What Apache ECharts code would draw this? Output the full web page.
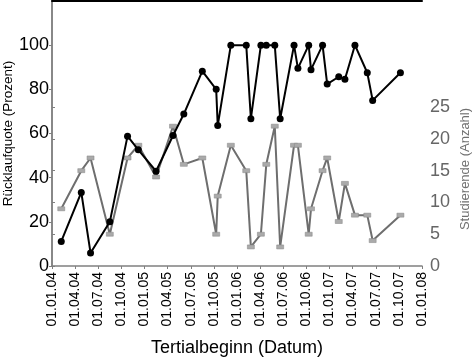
<!DOCTYPE html>
<html><head><meta charset="utf-8">
<script src="https://cdn.jsdelivr.net/npm/echarts@6/dist/echarts.min.js"></script>
<style>html,body{margin:0;padding:0;background:#fff}#c{width:472px;height:359px}</style>
</head><body><div id="c"></div>
<script>
// Month offsets since 01.01.2004 (term start dates)
const termMonths = [1.2, 3.8, 5.0, 7.5, 9.8, 11.2, 13.5, 15.7, 17.1, 19.5, 21.3, 21.5, 23.2, 25.2, 25.8, 27.1, 27.8, 28.9, 29.6, 31.4, 31.9, 33.3, 33.6, 35.1, 35.7, 37.2, 38.0, 39.3, 40.9, 41.6, 45.2];
// Rücklaufquote (Prozent)
const responseRate = [11.1, 33.3, 5.9, 20, 58.8, 52.6, 42.9, 59.1, 68.8, 88.2, 80, 63.6, 100, 100, 66.7, 100, 100, 100, 66.7, 100, 89.5, 100, 88.9, 100, 82.4, 85.7, 84.6, 100, 87.5, 75, 87.5];
// Studierende (Anzahl)
const students = [9, 15, 17, 5, 17, 19, 14, 22, 16, 17, 5, 11, 19, 15, 3, 5, 16, 22, 3, 19, 19, 5, 9, 15, 17, 7, 13, 8, 8, 4, 8];
// x tick labels, every 3 months from 01.01.04
const xTickLabels = ['01.01.04','01.04.04','01.07.04','01.10.04','01.01.05','01.04.05','01.07.05','01.10.05','01.01.06','01.04.06','01.07.06','01.10.06','01.01.07','01.04.07','01.07.07','01.10.07','01.01.08'];
const leftTicks = [0, 20, 40, 60, 80, 100];
const rightTicks = [0, 5, 10, 15, 20, 25];

const font = 'Liberation Sans, Arial, sans-serif';
const chart = echarts.init(document.getElementById('c'), null, {renderer: 'canvas'});
chart.setOption({
  animation: false,
  grid: {left: 52, right: 50, top: 1, bottom: 93, containLabel: false, outerBoundsMode: 'none'},
  xAxis: [{
    type: 'value', min: 0, max: 48, interval: 3,
    name: 'Tertialbeginn (Datum)', nameLocation: 'middle', nameGap: 73, nameMoveOverlap: false,
    nameTextStyle: {fontFamily: font, fontSize: 18, color: '#000'},
    axisLine: {show: true, lineStyle: {color: '#808080', width: 1.5}},
    axisTick: {show: true, length: 3, lineStyle: {color: '#808080'}},
    axisLabel: {rotate: 90, margin: 6, fontFamily: font, fontSize: 14, color: '#000',
      formatter: v => xTickLabels[Math.round(v / 3)] || ''},
    splitLine: {show: false}
  }, {
    type: 'value', position: 'top', min: 0, max: 48,
    axisLine: {show: true, onZero: false, lineStyle: {color: '#000', width: 2}},
    axisTick: {show: false}, axisLabel: {show: false}, splitLine: {show: false}
  }],
  yAxis: [{
    type: 'value', min: 0, max: 120, interval: 20,
    name: 'Rücklaufquote (Prozent)', nameLocation: 'middle', nameGap: 37, nameMoveOverlap: false,
    nameTextStyle: {fontFamily: font, fontSize: 13.5, color: '#000'},
    axisLine: {show: true, lineStyle: {color: '#808080', width: 1.5}},
    axisTick: {show: true, length: 3, customValues: leftTicks, lineStyle: {color: '#808080'}},
    axisLabel: {margin: 3, fontFamily: font, fontSize: 18, color: '#000', customValues: leftTicks},
    splitLine: {show: false}
  }, {
    type: 'value', min: 0, max: 41.7, position: 'right',
    axisLine: {show: true, lineStyle: {color: '#808080', width: 1.5}},
    axisTick: {show: true, length: 3, customValues: rightTicks, lineStyle: {color: '#808080'}},
    axisLabel: {margin: 8, fontFamily: font, fontSize: 18, color: '#666', customValues: rightTicks},
    splitLine: {show: false}
  }],
  graphic: [{
    type: 'text', x: 465, y: 169, rotation: Math.PI / 2,
    style: {text: 'Studierende (Anzahl)', fontFamily: font, fontSize: 13, fill: '#707070',
      textAlign: 'center', textVerticalAlign: 'middle'}
  }],
  series: [{
    type: 'line', yAxisIndex: 1, xAxisIndex: 0,
    data: termMonths.map((m, i) => [m, students[i]]),
    symbol: 'rect', symbolSize: [7, 4],
    itemStyle: {color: '#aaaaaa', borderColor: '#888', borderWidth: 0.5},
    lineStyle: {color: '#6e6e6e', width: 2},
    z: 2
  }, {
    type: 'line', yAxisIndex: 0, xAxisIndex: 0,
    data: termMonths.map((m, i) => [m, responseRate[i]]),
    symbol: 'circle', symbolSize: 7,
    itemStyle: {color: '#000'},
    lineStyle: {color: '#000', width: 2},
    z: 3
  }]
});
</script></body></html>
